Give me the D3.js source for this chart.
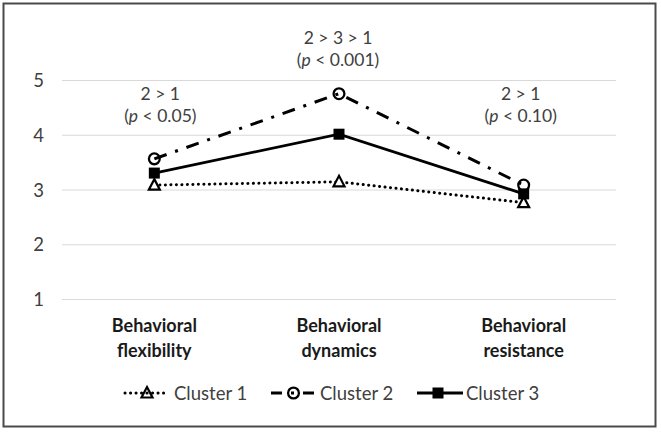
<!DOCTYPE html>
<html><head><meta charset="utf-8">
<script src="https://cdn.jsdelivr.net/npm/d3@7"></script>
<style>
html,body{margin:0;padding:0;background:#fff;}
svg{display:block;font-family:Lato,"Open Sans",sans-serif;}
</style></head>
<body>
<script>
const categories = ["Behavioral flexibility", "Behavioral dynamics", "Behavioral resistance"];
const seriesNames = ["Cluster 1", "Cluster 2", "Cluster 3"];
const cluster1 = [3.08, 3.14, 2.76];
const cluster2 = [3.56, 4.75, 3.08];
const cluster3 = [3.30, 4.01, 2.92];
const yTicks = [1, 2, 3, 4, 5];
const annotationTop = ["2 > 1", "2 > 3 > 1", "2 > 1"];
const annotationP = ["0.05", "0.001", "0.10"];

const W = 661, H = 432;
const FONT = "Lato,'Open Sans',sans-serif";
const svg = d3.select("body").append("svg").attr("width", W).attr("height", H);

svg.append("rect").attr("x", 3.5).attr("y", 3.5).attr("width", 652).attr("height", 423)
  .attr("fill", "#fff").attr("stroke", "#4a4a4a").attr("stroke-width", 2);

const x = d3.scaleBand().domain(categories).range([62, 616]).padding(0);
const cx = c => x(c) + x.bandwidth() / 2;
const y = d3.scaleLinear().domain([1, 5]).range([299, 80]);

// gridlines + y tick labels
const yAxis = d3.axisLeft(y).tickValues(yTicks).tickSize(-(616 - 62)).tickFormat(d3.format("d"));
const gy = svg.append("g").attr("transform", "translate(62,0)").call(yAxis);
gy.select(".domain").remove();
gy.selectAll(".tick line").attr("stroke", "#d9d9d9").attr("stroke-width", 1);
gy.selectAll(".tick text").attr("x", -18).attr("dy", "0.36em")
  .attr("fill", "#404040").style("font-size", "18.5px").style("font-family", FONT);

// category labels (bold, two lines)
const xAxis = d3.axisBottom(x).tickSize(0).tickFormat("");
const gx = svg.append("g").attr("transform", "translate(0,299)").call(xAxis);
gx.select(".domain").remove();
gx.selectAll(".tick").each(function(d) {
  const parts = d.split(" ");
  const t = d3.select(this).append("text").attr("text-anchor", "middle")
    .attr("fill", "#1a1a1a").style("font-size", "18px").style("font-weight", "bold")
    .style("font-family", FONT);
  t.append("tspan").attr("x", 0).attr("y", 33).text(parts[0]);
  t.append("tspan").attr("x", 0).attr("y", 58).text(parts[1]);
});

// annotations
const annOffset = [6, -1, -3];
const annY = [[100, 122], [44, 66], [100, 122]];
categories.forEach((c, i) => {
  const g = svg.append("g").attr("fill", "#404040").style("font-size", "17.5px").attr("text-anchor", "middle");
  g.append("text").attr("x", cx(c) + annOffset[i]).attr("y", annY[i][0]).text(annotationTop[i]);
  const t = g.append("text").attr("x", cx(c) + annOffset[i]).attr("y", annY[i][1]);
  t.append("tspan").text("(");
  t.append("tspan").style("font-style", "italic").text("p");
  t.append("tspan").text(" < " + annotationP[i] + ")");
});

const styles = [
  {dash: "0.1,5.4", width: 3, cap: "round", marker: "triangle"},
  {dash: "13,9,3,9", width: 3, cap: "butt", marker: "circle"},
  {dash: null, width: 2.8, cap: "butt", marker: "square"}
];
const data = [cluster1, cluster2, cluster3];

function drawMarker(g, type, px, py, legend) {
  if (type === "triangle") {
    const s = 11, h = 10;
    g.append("path").attr("d", `M${px},${py - h * 0.6}L${px + s / 2},${py + h * 0.45}L${px - s / 2},${py + h * 0.45}Z`)
      .attr("fill", legend ? "none" : "#fff").attr("stroke", "#000").attr("stroke-width", 2.2).attr("stroke-linejoin", "miter");
  } else if (type === "circle") {
    g.append("circle").attr("cx", px).attr("cy", py).attr("r", 5.4)
      .attr("fill", "none").attr("stroke", "#000").attr("stroke-width", 2.3);
  } else {
    g.append("rect").attr("x", px - 5.5).attr("y", py - 5.5).attr("width", 11).attr("height", 11).attr("fill", "#000");
  }
}

const line = d3.line().x((d, i) => cx(categories[i])).y(d => y(d));
data.forEach((vals, k) => {
  const st = styles[k];
  const g = svg.append("g");
  g.append("path").datum(vals).attr("d", line).attr("fill", "none").attr("stroke", "#000")
    .attr("stroke-width", st.width).attr("stroke-linecap", st.cap)
    .attr("stroke-dasharray", st.dash);
  vals.forEach((v, i) => drawMarker(g, st.marker, cx(categories[i]), y(v), false));
});

// legend
const legX = [125, 271, 417];
const legEnd = [166, 317, 463];
const legMark = [147, 293.5, 438];
const legTextX = [174, 320, 466];
const legY = 393;
seriesNames.forEach((name, k) => {
  const st = styles[k];
  const g = svg.append("g");
  g.append("line").attr("x1", legX[k]).attr("x2", legEnd[k]).attr("y1", legY).attr("y2", legY)
    .attr("stroke", "#000").attr("stroke-width", st.width).attr("stroke-linecap", st.cap)
    .attr("stroke-dasharray", k === 1 ? "11,9,3,9" : st.dash);
  drawMarker(g, st.marker, legMark[k], legY, true);
  g.append("text").attr("x", legTextX[k]).attr("y", 399.5).attr("fill", "#404040")
    .style("font-size", "18.5px").text(name);
});
</script>
</body></html>
